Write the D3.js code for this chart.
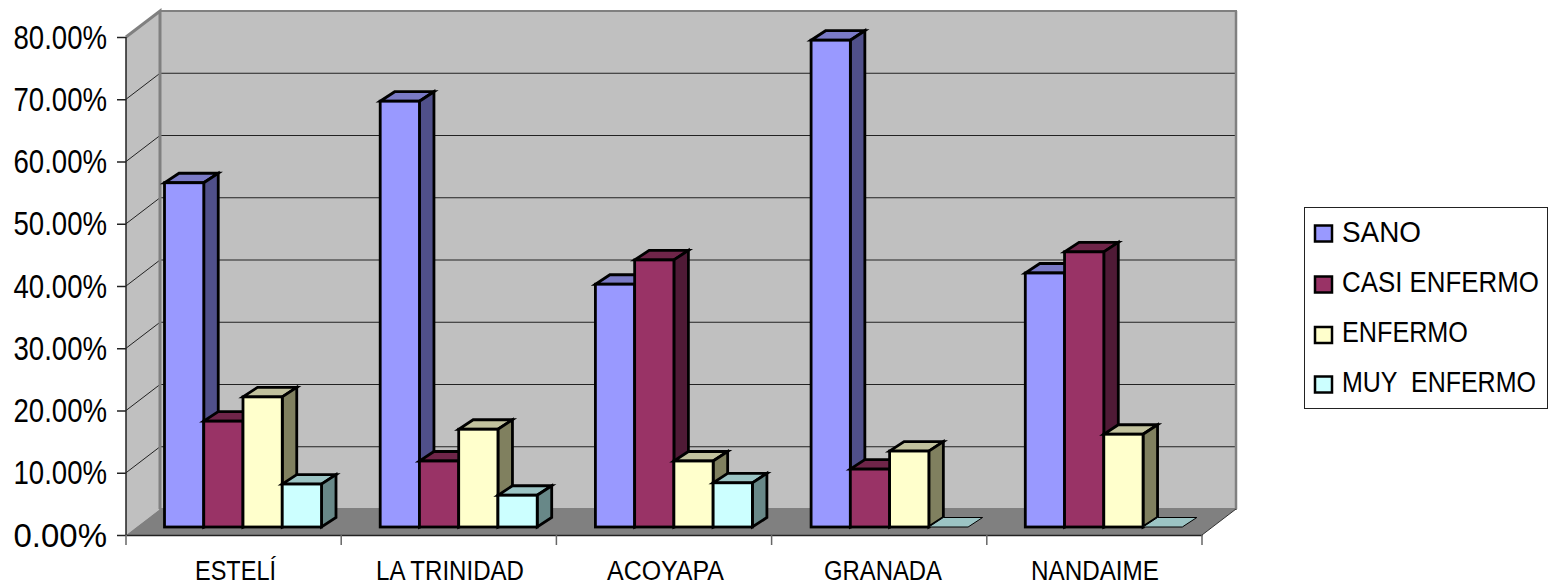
<!DOCTYPE html>
<html><head><meta charset="utf-8">
<script src="https://cdn.jsdelivr.net/npm/d3@7"></script>
<style>html,body{margin:0;padding:0;background:#fff;overflow:hidden}svg{display:block}text{font-family:"Liberation Sans",Arial,sans-serif;fill:#000;white-space:pre}</style>
</head><body><svg id="c" width="1549" height="586"></svg>
<script>
const categories = ["ESTELÍ","LA TRINIDAD","ACOYAPA","GRANADA","NANDAIME"];
const seriesNames = ["SANO","CASI ENFERMO","ENFERMO","MUY  ENFERMO"];
const sano = [55.3,68.4,39.0,78.2,40.8];
const casiEnfermo = [17.0,10.6,42.9,9.3,44.2];
const enfermo = [20.9,15.7,10.6,12.2,14.9];
const muyEnfermo = [6.9,5.1,7.1,0,0];
const series = [sano,casiEnfermo,enfermo,muyEnfermo];
const yTicks = [0,10,20,30,40,50,60,70,80];
const front = ["#9999ff","#993366","#ffffcc","#ccffff"];
const top_ = ["#7a7ac6","#6f2549","#c2c29e","#9cc4c4"];
const side = ["#50508a","#4f1a36","#80805f","#688888"];

const svg = d3.select("#c");
const x = d3.scaleBand().domain(categories).range([126,1202]);
const y = d3.scaleLinear().domain([0,80]).range([535,37]);
const inner = d3.scaleBand().domain(d3.range(4)).range([38.5,195.5]);
const nudge = [0,0.5,0.5,1,0];
const wall = {dx:34,dy:-26}, bar = {dx:14.5,dy:-9.5}, baseShift = -8;
const pts = a => a.map(p=>p.join(",")).join(" ");
const x0 = x.range()[0], x1 = x.range()[1];

svg.append("polygon").attr("points",pts([[x0+wall.dx,y(80)+wall.dy],[x1+wall.dx,y(80)+wall.dy],[x1+wall.dx,y(0)+wall.dy],[x0+wall.dx,y(0)+wall.dy]]))
  .attr("fill","#c0c0c0").attr("stroke","#808080").attr("stroke-width",2);
svg.append("polygon").attr("points",pts([[x0,y(80)],[x0+wall.dx,y(80)+wall.dy],[x0+wall.dx,y(0)+wall.dy],[x0,y(0)]]))
  .attr("fill","#c0c0c0").attr("stroke","none");
yTicks.slice(1,-1).forEach(t=>{
  svg.append("polyline").attr("points",pts([[x0,y(t)],[x0+wall.dx,y(t)+wall.dy],[x1+wall.dx,y(t)+wall.dy]]))
    .attr("fill","none").attr("stroke","#222").attr("stroke-width",1);
});
svg.append("polyline").attr("points",pts([[x0,y(80)],[x0+wall.dx,y(80)+wall.dy],[x0+wall.dx,y(0)+wall.dy]]))
  .attr("fill","none").attr("stroke","#808080").attr("stroke-width",3);
svg.append("line").attr("x1",x1+wall.dx).attr("x2",x1+wall.dx).attr("y1",y(80)+wall.dy).attr("y2",y(0)+wall.dy).attr("stroke","#808080").attr("stroke-width",2.5);
svg.append("polygon").attr("points",pts([[x0,y(0)],[x1,y(0)],[x1+wall.dx,y(0)+wall.dy],[x0+wall.dx,y(0)+wall.dy]]))
  .attr("fill","#808080");
svg.append("line").attr("x1",x1).attr("y1",y(0)).attr("x2",x1+wall.dx).attr("y2",y(0)+wall.dy).attr("stroke","#333").attr("stroke-width",1);

categories.forEach((c,i)=>{
  series.forEach((s,j)=>{
    const v = s[i];
    const bx = x(c)+inner(j)+nudge[i], w = inner.bandwidth(), by = y(0)+baseShift, ty = y(v)+baseShift;
    const g = svg.append("g").attr("stroke","#000").attr("stroke-width",v>0?2.8:1).attr("stroke-linejoin","miter");
    g.append("polygon").attr("points",pts([[bx,ty],[bx+w,ty],[bx+w+bar.dx,ty+bar.dy],[bx+bar.dx,ty+bar.dy]])).attr("fill",top_[j]);
    if(v>0){
      g.append("polygon").attr("points",pts([[bx+w,ty],[bx+w+bar.dx,ty+bar.dy],[bx+w+bar.dx,by+bar.dy],[bx+w,by]])).attr("fill",side[j]);
      g.append("rect").attr("x",bx).attr("y",ty).attr("width",w).attr("height",by-ty).attr("fill",front[j]);
    }
  });
});

const ya = d3.axisLeft(y).tickValues(yTicks).tickSize(9).tickPadding(0).tickFormat(d=>"");
const yg = svg.append("g").attr("transform",`translate(${x0},0)`).call(ya);
yg.selectAll("line,path").attr("stroke","#222").attr("stroke-width",1.5);
yg.select("path").attr("d",`M0,${y(80)}V${y(0)}`);
const xa = d3.axisBottom(x).tickValues([]).tickSizeOuter(0);
const xg = svg.append("g").attr("transform",`translate(0,${y(0)})`).call(xa);
xg.select("path").attr("stroke","#222").attr("stroke-width",1.5);
categories.map(c=>x(c)).concat([x1]).forEach(p=>svg.append("line").attr("x1",p).attr("x2",p).attr("y1",y(0)).attr("y2",y(0)+10).attr("stroke","#666").attr("stroke-width",1.5));

function squeezed(str,left,base,size,width){
  const t = svg.append("text").attr("font-size",size).text(str);
  const n = t.node().getComputedTextLength();
  t.attr("transform",`translate(${left},${base}) scale(${width/n},1)`);
  return t;
}
yTicks.forEach(t=>squeezed(t.toFixed(2)+"%",13.5,y(t)+11.5,34,93.5));
const catW = [81,148,117,118,128];
const catL = [195,376,607,824,1031];
categories.forEach((c,i)=>squeezed(c,catL[i],580,28,catW[i]));

svg.append("rect").attr("x",1304.5).attr("y",207.5).attr("width",243).attr("height",201).attr("fill","#fff").attr("stroke","#222").attr("stroke-width",1);
const legY = [233.5,284.5,335,384.5];
const legB = [241.5,291.5,341.5,391.5];
const legW = [79,197,126,194];
seriesNames.forEach((n,j)=>{
  svg.append("rect").attr("x",1315).attr("y",legY[j]-8).attr("width",17).attr("height",16).attr("fill",front[j]).attr("stroke","#000").attr("stroke-width",2.5);
  squeezed(n,1342,legB[j],29,legW[j]);
});
</script></body></html>
